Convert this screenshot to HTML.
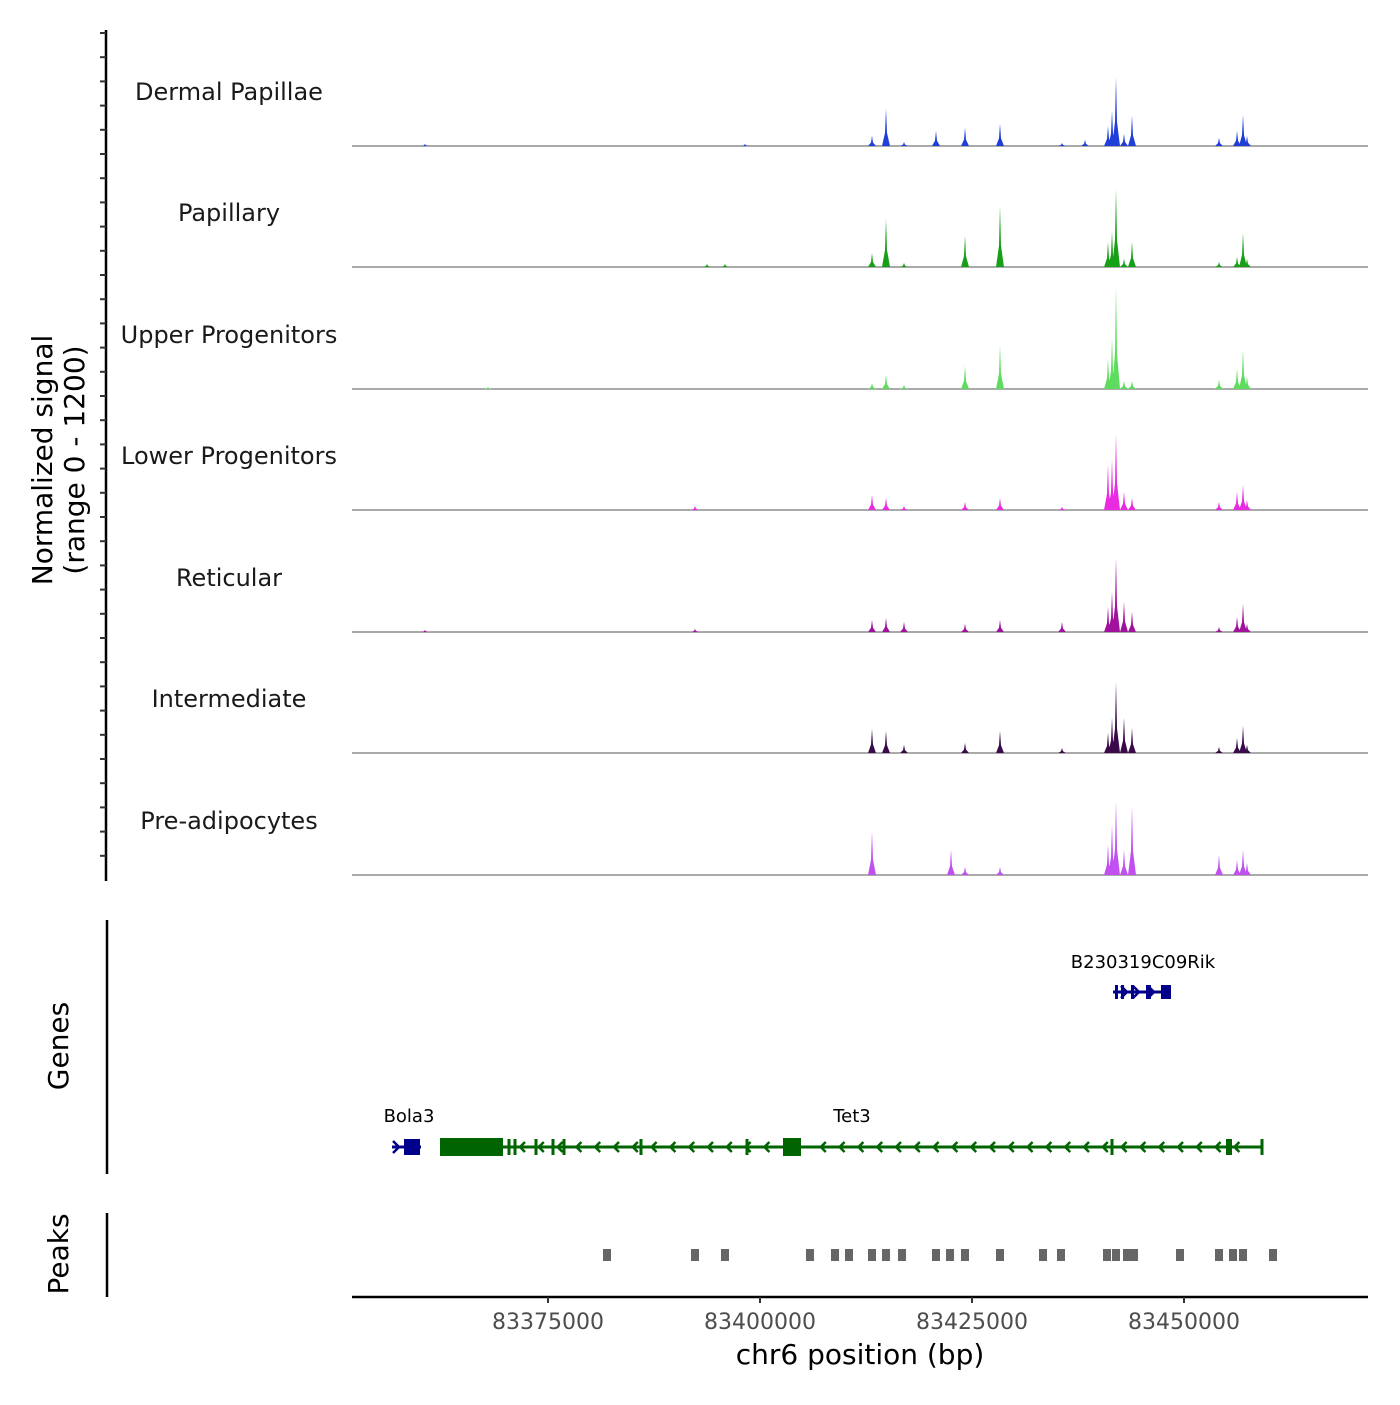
<!DOCTYPE html>
<html><head><meta charset="utf-8"><style>
body{margin:0;background:#fff}
svg{font-family:"DejaVu Sans","Liberation Sans",sans-serif}
</style></head><body>
<svg id="c" width="1400" height="1400" viewBox="0 0 1400 1400"></svg>
<script>
// ---- data ----
const trackNames = ["Dermal Papillae","Papillary","Upper Progenitors","Lower Progenitors","Reticular","Intermediate","Pre-adipocytes"];
const trackColors = ["#1f3fd8","#17a017","#5ddc5d","#e82ae0","#a0129c","#3a0a4a","#c050f0"];
const peakPos = [83360496,83367925,83392335,83393750,83395873,83398232,83413208,83414859,83416982,83420755,83422524,83424175,83428302,83435614,83438326,83441038,83441510,83441982,83442925,83443869,83454128,83456251,83456958,83457430];
const dermalVals   = [20,0,0,0,0,20,100,370,40,150,0,180,220,30,60,200,350,680,120,300,80,150,310,100];
const papillaryVals= [0,0,0,30,30,0,140,480,40,0,0,310,600,0,0,250,350,770,80,250,50,100,340,80];
const upperVals    = [0,20,0,0,0,0,60,140,40,0,0,230,430,0,0,300,500,1010,80,80,90,200,390,120];
const lowerVals    = [0,0,40,0,0,0,150,120,40,0,0,80,120,30,0,450,500,750,180,120,80,180,250,100];
const reticularVals= [20,0,30,0,0,0,120,140,100,0,0,80,120,100,0,250,400,730,300,200,50,150,280,80];
const intermVals   = [0,0,0,0,0,0,240,220,80,0,0,100,220,50,0,200,350,700,350,250,60,150,270,80];
const preadipVals  = [0,0,0,0,0,0,430,0,0,0,250,80,80,0,0,300,500,730,250,680,200,150,250,120];
const trackVals = [dermalVals,papillaryVals,upperVals,lowerVals,reticularVals,intermVals,preadipVals];
const peakRegions = [83381958,83392335,83395873,83405897,83408845,83410496,83413208,83414859,83416746,83420755,83422406,83424175,83428302,83433373,83435496,83440920,83441982,83443279,83444104,83449529,83454128,83455779,83456958,83460496];
const xTicks = [83375000,83400000,83425000,83450000];

// ---- scales ----
const X0=352,X1=1368,BP0=83351887,BP1=83471698;
const xs = bp => X0+(bp-BP0)/(BP1-BP0)*(X1-X0);
const baselines=[146,267,389,510,632,753,875];
const ys = (v,i) => baselines[i]-v/1200*121.5;

const svg=document.getElementById('c');
const NS="http://www.w3.org/2000/svg";
function mk(t,a,p){const e=document.createElementNS(NS,t);for(const k in a)e.setAttribute(k,a[k]);(p||svg).appendChild(e);return e;}

// left axis
mk('line',{x1:106,y1:30,x2:106,y2:881,stroke:'#000','stroke-width':2.5});
for(let y=33;y<=880;y+=24.2){mk('line',{x1:100,y1:y,x2:106,y2:y,stroke:'#333','stroke-width':2});}
const yt=mk('text',{x:0,y:0,'font-size':28,'text-anchor':'middle',transform:'translate(52,460) rotate(-90)'});

mk('tspan',{x:0,dy:0},yt).textContent='Normalized signal';
mk('tspan',{x:0,dy:32},yt).textContent='(range 0 - 1200)';

// tracks
trackNames.forEach((n,i)=>{
  const g=mk('g',{});
  
  
  const lb=mk('text',{x:229,y:baselines[i]-46,'font-size':24,'text-anchor':'middle',fill:'#1a1a1a'},g);
  lb.textContent=n;
  
  
  mk('line',{x1:X0,y1:baselines[i],x2:X1,y2:baselines[i],stroke:'#555','stroke-width':1},g);
  const vals=trackVals[i];
  vals.forEach((v,j)=>{
    if(v<=0)return;
    const x=xs(peakPos[j]),b=baselines[i],t=ys(v,i);
    const p=mk('path',{d:`M${x-4} ${b}L${x-1} ${b-(b-t)*0.35}L${x} ${t}L${x+1} ${b-(b-t)*0.35}L${x+4} ${b}Z`,fill:trackColors[i]},g);
    
    
  });
});

// genes panel
mk('line',{x1:107,y1:920,x2:107,y2:1174,stroke:'#000','stroke-width':2.5});
const gt=mk('text',{x:0,y:0,'font-size':28,'text-anchor':'middle',transform:'translate(68,1046) rotate(-90)'});
gt.textContent='Genes';
const gb=mk('g',{});
mk('line',{x1:1113,y1:992,x2:1171,y2:992,stroke:'#00008b','stroke-width':3},gb);
[[1115,3],[1121,3],[1131,3],[1146,5],[1161,10]].forEach(([x,w])=>mk('rect',{x:x,y:985,width:w,height:14,fill:'#00008b'},gb));
[1125,1137,1152].forEach(x=>mk('path',{d:`M${x-4} 986L${x+2} 992L${x-4} 998`,stroke:'#00008b','stroke-width':2.5,fill:'none'},gb));
mk('text',{x:1143,y:968,'font-size':18,'text-anchor':'middle'},gb).textContent='B230319C09Rik';
const gbo=mk('g',{});
mk('line',{x1:392,y1:1147,x2:421,y2:1147,stroke:'#00008b','stroke-width':3},gbo);
mk('rect',{x:404,y:1139,width:16,height:16,fill:'#00008b'},gbo);
mk('path',{d:'M393 1141L399 1147L393 1153',stroke:'#00008b','stroke-width':2.5,fill:'none'},gbo);
mk('text',{x:409,y:1122,'font-size':18,'text-anchor':'middle'},gbo).textContent='Bola3';
const gtt=mk('g',{});
mk('line',{x1:440,y1:1147,x2:1263,y2:1147,stroke:'#006400','stroke-width':3},gtt);
mk('rect',{x:440,y:1138,width:63,height:18,fill:'#006400'},gtt);
mk('rect',{x:783,y:1138,width:18,height:18,fill:'#006400'},gtt);
mk('rect',{x:1226,y:1139,width:6,height:16,fill:'#006400'},gtt);
[509,515,536,553,564,641,747,1112,1262].forEach(x=>mk('rect',{x:x-1.5,y:1139,width:3,height:16,fill:'#006400'},gtt));
for(let x=522;x<1255;x+=18.8){if(x>780&&x<806)continue;mk('path',{d:`M${x+3} 1142L${x-2} 1147L${x+3} 1152`,stroke:'#006400','stroke-width':2.5,fill:'none'},gtt);}
mk('text',{x:852,y:1122,'font-size':18,'text-anchor':'middle'},gtt).textContent='Tet3';

// peaks panel
mk('line',{x1:107,y1:1213,x2:107,y2:1297,stroke:'#000','stroke-width':2.5});
const pt=mk('text',{x:0,y:0,'font-size':28,'text-anchor':'middle',transform:'translate(68,1254) rotate(-90)'});
pt.textContent='Peaks';
peakRegions.forEach(bp=>{
  const r=mk('rect',{x:xs(bp)-4,y:1249,width:8,height:12,fill:'#666'});
  
  
});

// x axis
mk('line',{x1:X0,y1:1297,x2:X1,y2:1297,stroke:'#000','stroke-width':2.5});
xTicks.forEach(t=>{
  const x=xs(t);
  mk('line',{x1:x,y1:1297,x2:x,y2:1303,stroke:'#333','stroke-width':2});
  const tl=mk('text',{x:x,y:1329,'font-size':22,'text-anchor':'middle',fill:'#4d4d4d'});
  tl.textContent=t;
  
  
});
const xt=mk('text',{x:860,y:1364,'font-size':28,'text-anchor':'middle'});
xt.textContent='chr6 position (bp)';


</script>
</body></html>
